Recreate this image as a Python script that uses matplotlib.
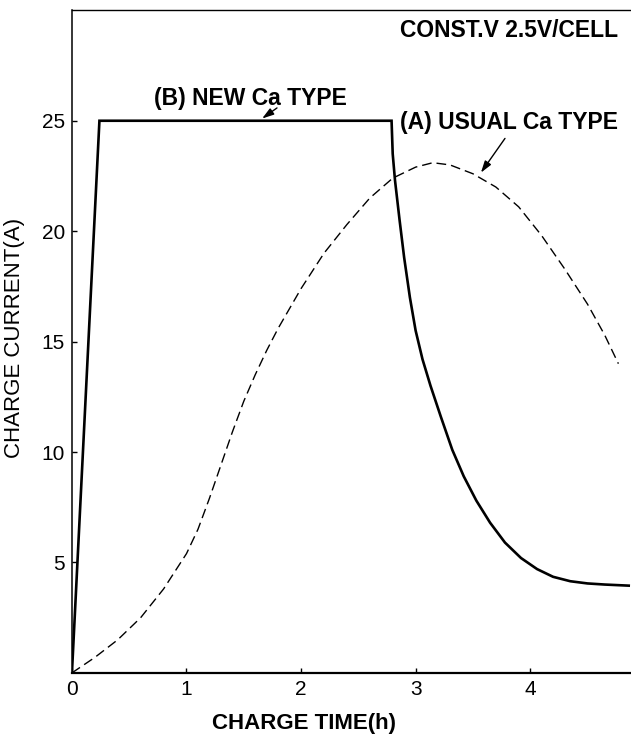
import matplotlib
matplotlib.use("Agg")
import matplotlib.pyplot as plt

# (B) new Ca type - solid curve
b_time = [0, 0.24, 2.79, 2.80, 2.82, 2.86, 2.90, 2.95, 3.00, 3.06, 3.13, 3.22, 3.32, 3.42,
          3.53, 3.65, 3.78, 3.92, 4.06, 4.20, 4.35, 4.50, 4.65, 4.86]
b_current = [0, 25, 25, 23.5, 22.3, 20.5, 18.8, 17.0, 15.5, 14.2, 13.0, 11.6, 10.1, 8.9,
             7.8, 6.8, 5.9, 5.2, 4.7, 4.35, 4.15, 4.05, 4.0, 3.95]

# (A) usual Ca type - dashed curve
a_time = [0, 0.2, 0.4, 0.6, 0.8, 1.0, 1.1, 1.2, 1.3, 1.4, 1.5, 1.6, 1.7, 1.8, 1.9, 2.0,
          2.2, 2.4, 2.6, 2.8, 3.0, 3.15, 3.3, 3.5, 3.7, 3.9, 4.1, 4.3, 4.5, 4.65, 4.77]
a_current = [0, 0.7, 1.5, 2.5, 3.8, 5.4, 6.5, 7.9, 9.4, 10.9, 12.3, 13.5, 14.6, 15.6, 16.5, 17.4,
             19.0, 20.3, 21.5, 22.4, 22.9, 23.1, 23.0, 22.6, 22.0, 21.1, 19.8, 18.3, 16.7, 15.3, 14.0]

x_ticks = [0, 1, 2, 3, 4]
y_ticks = [5, 10, 15, 20, 25]

plt.rcParams['font.family'] = ['Liberation Sans Narrow', 'Liberation Sans', 'DejaVu Sans']

fig = plt.figure(figsize=(6.31, 7.37), dpi=100)
ax = fig.add_axes([0.114, 0.087, 0.886, 0.899])

ax.plot(b_time, b_current, color='black', lw=1.9, solid_joinstyle='miter')
ax.plot(a_time, a_current, color='black', lw=1.0, dashes=(7, 3.6))

ax.set_xlim(0, 4.88)
ax.set_ylim(0, 30)
ax.set_xticks(x_ticks)
ax.set_yticks(y_ticks)
ax.tick_params(direction='in', length=3.6, width=1, labelsize=15)
ax.tick_params(axis='x', pad=5)
ax.tick_params(axis='y', pad=5)

ax.spines['right'].set_visible(False)
ax.spines['top'].set_linewidth(1.0)
ax.spines['left'].set_linewidth(1.1)
ax.spines['bottom'].set_linewidth(1.6)

bold = dict(family=['Liberation Sans', 'DejaVu Sans'], fontweight='bold', fontsize=16.5)
ax.text(2.86, 29.1, 'CONST.V 2.5V/CELL', ha='left', va='center', **bold)
ax.text(0.72, 26.0, '(B) NEW Ca TYPE', ha='left', va='center', **bold)
ax.text(2.86, 24.9, '(A) USUAL Ca TYPE', ha='left', va='center', **bold)

arrow = dict(arrowstyle='-|>,head_length=0.7,head_width=0.22', color='black', lw=1.0,
             mutation_scale=10, shrinkA=0, shrinkB=0)
ax.annotate('', xy=(1.66, 25.1), xytext=(1.79, 25.58), arrowprops=arrow)
ax.annotate('', xy=(3.57, 22.65), xytext=(3.78, 24.2), arrowprops=arrow)

ax.set_xlabel('CHARGE TIME(h)', family=['Liberation Sans', 'DejaVu Sans'],
              fontweight='bold', fontsize=16)
ax.set_ylabel('CHARGE CURRENT(A)', family=['Liberation Sans', 'DejaVu Sans'],
              fontsize=16)
ax.xaxis.set_label_coords(2.03 / 4.88, -0.060)
ax.yaxis.set_label_coords(-0.084, 0.505)

fig.savefig('out.png', dpi=100)
